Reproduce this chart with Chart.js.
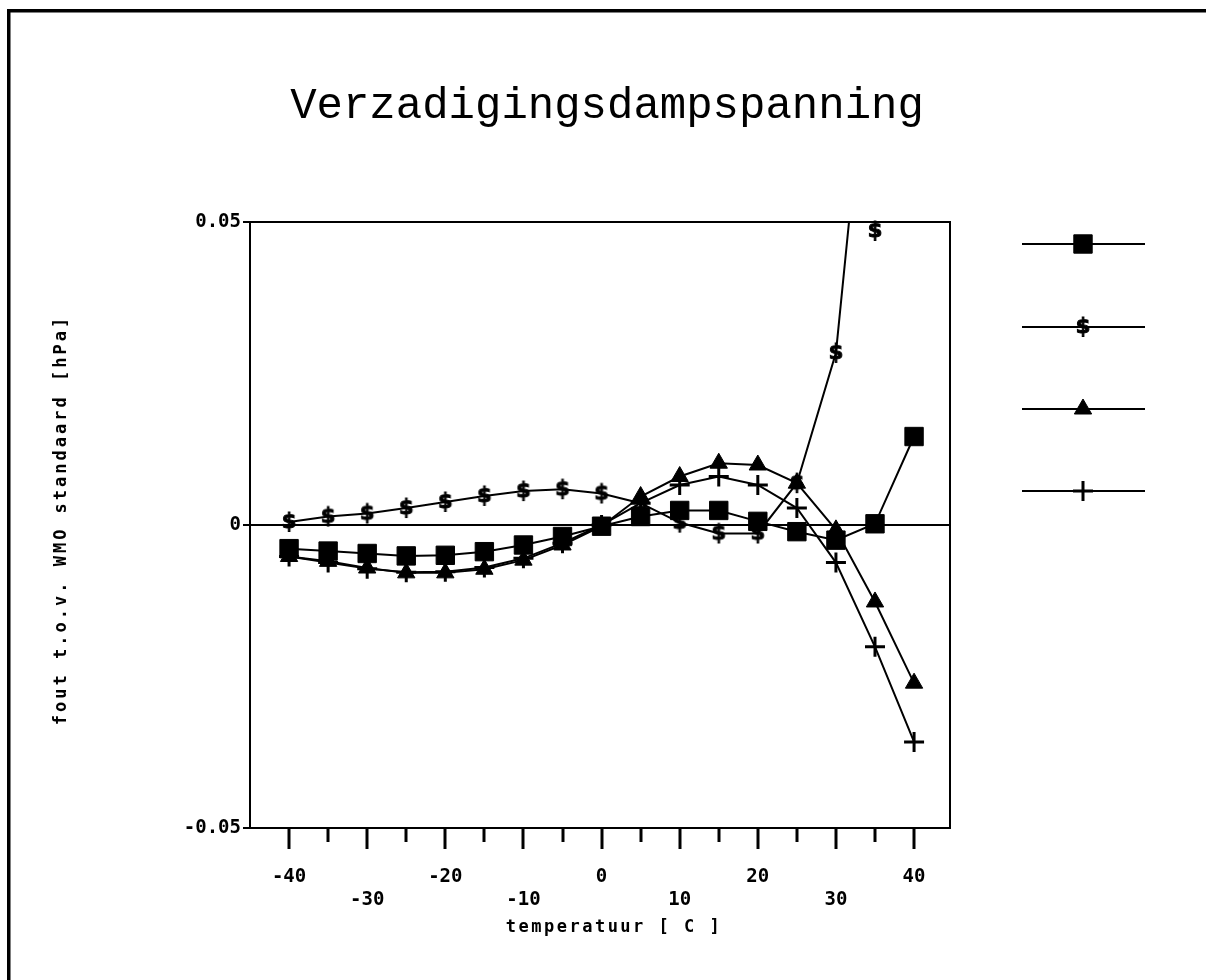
<!DOCTYPE html>
<html>
<head>
<meta charset="utf-8">
<script src="https://cdn.jsdelivr.net/npm/chart.js"></script>
<style>
  html, body { margin: 0; padding: 0; background: #fff; }
  #wrap { width: 1206px; height: 980px; position: relative; }
</style>
</head>
<body>
<div id="wrap"><canvas id="chart"></canvas></div>
<script>
// temperatures (C) and error vs. WMO standard (hPa)
var temps = [-40, -35, -30, -25, -20, -15, -10, -5, 0, 5, 10, 15, 20, 25, 30, 35, 40];
var serieBlok = [-0.0039, -0.0043, -0.0047, -0.0051, -0.0050, -0.0044, -0.0033, -0.0019, -0.0002,
                 0.0014, 0.0024, 0.0024, 0.0006, -0.0011, -0.0025, 0.0002, 0.0146];
var serieDollar = [0.0005, 0.0014, 0.0019, 0.0028, 0.0038, 0.0048, 0.0056, 0.0059, 0.0052,
                   0.0036, 0.0004, -0.0014, -0.0014, 0.0069, 0.0284, 0.093, null];
var serieDriehoek = [-0.0052, -0.0060, -0.0071, -0.0079, -0.0079, -0.0073, -0.0058, -0.0033, -0.0002,
                     0.0047, 0.0080, 0.0102, 0.0099, 0.0069, -0.0008, -0.0127, -0.0261];
var seriePlus = [-0.0052, -0.0062, -0.0072, -0.0078, -0.0077, -0.0070, -0.0055, -0.0030, 0.0000,
                 0.0036, 0.0066, 0.0080, 0.0066, 0.0028, -0.0062, -0.0201, -0.0358];
var xTicks = [-40, -35, -30, -25, -20, -15, -10, -5, 0, 5, 10, 15, 20, 25, 30, 35, 40];
var yTicks = [-0.05, 0, 0.05];

var yMin = -0.05, yMax = 0.05;

function pts(vals) {
	return temps.map(function (t, i) { return { x: t, y: vals[i] }; });
}

// "$" marker as a small canvas
function dollarMarker(offsetY) {
	var c = document.createElement("canvas");
	c.width = 18;
	c.height = 26 + 2 * offsetY;
	var g = c.getContext("2d");
	g.fillStyle = "#000";
	g.strokeStyle = "#000";
	g.lineWidth = 1;
	g.font = "bold 21px 'DejaVu Sans'";
	g.textAlign = "center";
	g.textBaseline = "middle";
	g.fillText("$", 9, c.height / 2 + offsetY + 1);
	g.strokeText("$", 9, c.height / 2 + offsetY + 1);
	return c;
}
var dollarPt = dollarMarker(0);
var dollarTop = dollarMarker(9);

// values above the top of the axis get their marker pinned to the top edge
var dollarOver = temps.map(function (t, i) {
	var v = serieDollar[i];
	return { x: t, y: (v !== null && v > yMax) ? yMax : null };
});

function serie(vals, style, radius, bw) {
	return {
		data : pts(vals),
		borderColor : "#000",
		backgroundColor : "#000",
		borderWidth : 2,
		pointStyle : style,
		pointRadius : radius,
		pointBorderWidth : bw,
		pointBackgroundColor : "#000",
		pointBorderColor : "#000",
		tension : 0,
		spanGaps : false
	};
}

var datasets = [
	serie(serieBlok, "rect", 13, 1),
	serie(serieDollar, dollarPt, 9, 1),
	serie(serieDriehoek, "triangle", 10, 1),
	serie(seriePlus, "cross", 10, 3),
	{
		data : dollarOver,
		showLine : false,
		pointStyle : dollarTop,
		pointRadius : 9,
		clip : false
	}
];

var deco = {
	id : "deco",
	beforeDatasetsDraw : function (chart) {
		var ctx = chart.ctx, a = chart.chartArea, xs = chart.scales.x;
		ctx.save();
		ctx.strokeStyle = "#000";
		ctx.lineWidth = 2;
		ctx.strokeRect(a.left, a.top, a.right - a.left, a.bottom - a.top);
		ctx.lineWidth = 3;
		xTicks.forEach(function (v) {
			var px = Math.round(xs.getPixelForValue(v));
			var len = (v % 10 === 0) ? 21 : 14;
			ctx.beginPath();
			ctx.moveTo(px, a.bottom);
			ctx.lineTo(px, a.bottom + len);
			ctx.stroke();
		});
		ctx.restore();
	},
	afterDraw : function (chart) {
		var ctx = chart.ctx;
		ctx.save();
		ctx.fillStyle = "#000";
		ctx.strokeStyle = "#000";

		// page frame (left + top edges)
		ctx.fillRect(7, 9, 3.5, 980);
		ctx.fillRect(7, 9, 1206, 3.5);

		// title
		ctx.font = "44px 'Liberation Mono'";
		ctx.textAlign = "center";
		ctx.textBaseline = "alphabetic";
		ctx.fillText("Verzadigingsdampspanning", 607, 118);

		// axis titles
		ctx.font = "bold 17px 'DejaVu Sans Mono'";
		ctx.letterSpacing = "2.5px";
		ctx.textBaseline = "middle";
		ctx.fillText("temperatuur [ C ]", 614, 928);
		ctx.save();
		ctx.translate(62, 520);
		ctx.rotate(-Math.PI / 2);
		ctx.letterSpacing = "3px";
		ctx.fillText("fout t.o.v. WMO standaard [hPa]", 0, 0);
		ctx.restore();
		ctx.letterSpacing = "0px";

		// legend: line with marker, no text
		var ly = [244, 327, 409, 491];
		for (var i = 0; i < 4; i++) {
			var ds = chart.data.datasets[i];
			ctx.lineWidth = 2;
			ctx.beginPath();
			ctx.moveTo(1022, ly[i]);
			ctx.lineTo(1145, ly[i]);
			ctx.stroke();
			ctx.lineWidth = ds.pointBorderWidth;
			Chart.helpers.drawPoint(ctx, {
				pointStyle : ds.pointStyle,
				radius : ds.pointRadius,
				rotation : 0,
				borderWidth : ds.pointBorderWidth
			}, 1083, ly[i]);
		}
		ctx.restore();
	}
};

Chart.defaults.font.family = "'DejaVu Sans Mono'";
Chart.defaults.color = "#000";

var chart = new Chart(document.getElementById("chart"), {
	type : "line",
	data : { datasets : datasets },
	options : {
		responsive : true,
		maintainAspectRatio : false,
		animation : false,
		layout : { padding : { top : 222, right : 256, left : 0, bottom : 0 } },
		plugins : {
			legend : { display : false },
			title : { display : false },
			tooltip : { enabled : false }
		},
		scales : {
			x : {
				type : "linear",
				min : -45,
				max : 44.6,
				afterFit : function (s) { s.height = 152; },
				afterBuildTicks : function (s) {
					s.ticks = xTicks.map(function (v) { return { value : v }; });
				},
				grid : { display : false },
				border : { display : false },
				ticks : {
					autoSkip : false,
					maxRotation : 0,
					padding : 30,
					font : { size : 19, weight : "bold" },
					callback : function (v) {
						if (v % 10 !== 0) return "";
						return (Math.abs(v / 10) % 2 === 0) ? [String(v)] : ["", String(v)];
					}
				}
			},
			y : {
				min : yMin,
				max : yMax,
				afterFit : function (s) { s.width = 250; },
				afterBuildTicks : function (s) {
					s.ticks = yTicks.map(function (v) { return { value : v }; });
				},
				border : { display : false },
				grid : {
					drawTicks : true,
					tickLength : 7,
					tickColor : "#000",
					tickWidth : 2,
					lineWidth : 2,
					color : function (c) {
						return (c.tick && c.tick.value === 0) ? "#000" : "rgba(0,0,0,0)";
					}
				},
				ticks : {
					padding : 2,
					font : { size : 19, weight : "bold" },
					callback : function (v) { return String(v); }
				}
			}
		}
	},
	plugins : [deco]
});
</script>
</body>
</html>
